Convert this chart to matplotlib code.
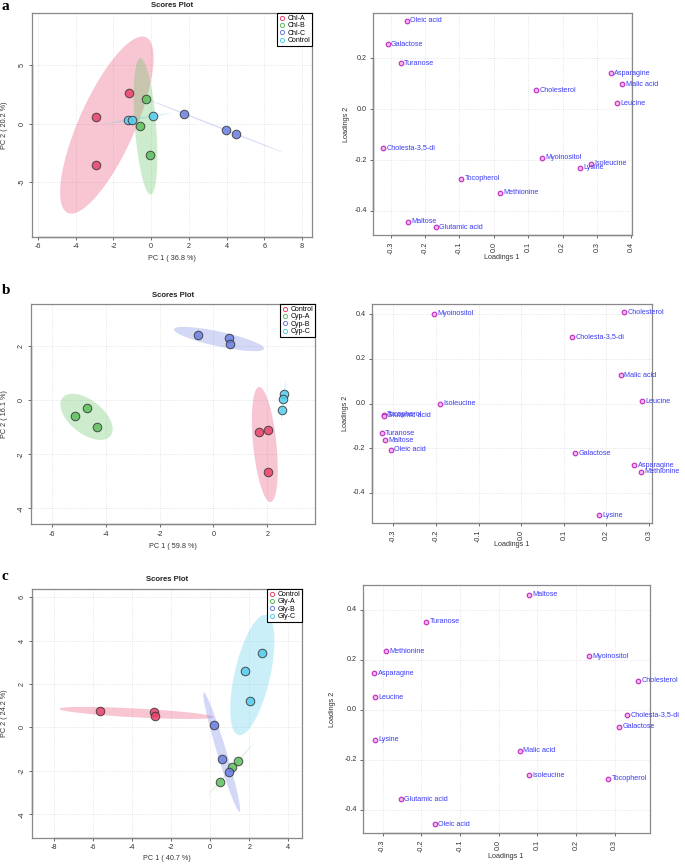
import numpy as np
import matplotlib
matplotlib.use('Agg')
import matplotlib.pyplot as plt
from matplotlib.lines import Line2D

plt.rcParams['font.family'] = ['Liberation Sans', 'DejaVu Sans']

# ---- panel a : Chl ----
chl_names = ['Chl-A', 'Chl-B', 'Chl-C', 'Control']
chl_group = [0, 0, 0, 1, 1, 1, 2, 2, 2, 3, 3, 3]
chl_pc1 = [-1.18, -2.93, -2.94, -0.27, -0.57, -0.06, 1.74, 3.98, 4.51, -1.25, -1.03, 0.08]
chl_pc2 = [2.60, 0.57, -3.49, 2.14, -0.17, -2.63, 0.88, -0.57, -0.86, 0.34, 0.34, 0.66]

cmp_a = ['Oleic acid', 'Galactose', 'Turanose', 'Asparagine', 'Malic acid', 'Cholesterol',
         'Leucine', 'Cholesta-3,5-di', 'Myoinositol', 'Isoleucine', 'Lysine', 'Tocopherol',
         'Methionine', 'Maltose', 'Glutamic acid']
load1_a = [-0.253, -0.309, -0.271, 0.340, 0.373, 0.122, 0.359, -0.323, 0.140, 0.282, 0.251,
           -0.095, 0.017, -0.250, -0.169]
load2_a = [0.348, 0.256, 0.180, 0.141, 0.098, 0.074, 0.024, -0.151, -0.190, -0.214, -0.230,
           -0.273, -0.329, -0.442, -0.464]

# ---- panel b : Cyp ----
cyp_names = ['Control', 'Cyp-A', 'Cyp-B', 'Cyp-C']
cyp_group = [0, 0, 0, 1, 1, 1, 2, 2, 2, 3, 3, 3]
cyp_pc1 = [1.68, 2.03, 2.01, -4.68, -5.12, -4.33, -0.58, 0.57, 0.63, 2.63, 2.59, 2.56]
cyp_pc2 = [-1.16, -1.11, -2.64, -0.285, -0.57, -0.98, 2.43, 2.31, 2.07, 0.233, 0.048, -0.35]

cmp_b = ['Myoinositol', 'Cholesterol', 'Cholesta-3,5-di', 'Malic acid', 'Leucine', 'Isoleucine',
         'Tocopherol', 'Glutamic acid', 'Turanose', 'Maltose', 'Oleic acid', 'Galactose',
         'Asparagine', 'Methionine', 'Lysine']
load1_b = [-0.204, 0.242, 0.119, 0.234, 0.284, -0.190, -0.323, -0.322, -0.327, -0.320, -0.306,
           0.126, 0.266, 0.281, 0.183]
load2_b = [0.403, 0.409, 0.300, 0.127, 0.011, 0.000, -0.051, -0.054, -0.133, -0.164, -0.207,
           -0.222, -0.276, -0.305, -0.500]

# ---- panel c : Gly ----
gly_names = ['Control', 'Gly-A', 'Gly-B', 'Gly-C']
gly_group = [0, 0, 0, 1, 1, 1, 2, 2, 2, 3, 3, 3]
gly_pc1 = [-5.63, -2.87, -2.82, 1.44, 1.13, 0.49, 0.21, 0.59, 0.98, 2.67, 1.77, 2.04]
gly_pc2 = [0.756, 0.71, 0.54, -1.55, -1.84, -2.52, 0.11, -1.47, -2.06, 3.44, 2.61, 1.20]

cmp_c = ['Maltose', 'Turanose', 'Methionine', 'Myoinositol', 'Asparagine', 'Cholesterol',
         'Leucine', 'Cholesta-3,5-di', 'Galactose', 'Lysine', 'Malic acid', 'Isoleucine',
         'Tocopherol', 'Glutamic acid', 'Oleic acid']
load1_c = [0.079, -0.188, -0.292, 0.234, -0.322, 0.360, -0.320, 0.331, 0.312, -0.320, 0.054,
           0.078, 0.283, -0.253, -0.165]
load2_c = [0.460, 0.352, 0.235, 0.215, 0.147, 0.116, 0.050, -0.019, -0.068, -0.119, -0.164,
           -0.262, -0.276, -0.357, -0.458]

W, H = 685, 867
COLS = ['#E8436A', '#5CC05C', '#6B7FE0', '#55CCEE']
CHI95 = 5.991464547  # qchisq(0.95, 2)

fig = plt.figure(figsize=(W / 100, H / 100), dpi=100)


def rect(l, t, r, b):
    return [l / W, 1 - b / H, (r - l) / W, (b - t) / H]


def ftext(x, y, s, **kw):
    fig.text(x / W, 1 - y / H, s, ha='center', va='center', **kw)


def ellipse(x, y, n=200):
    x = np.asarray(x)
    y = np.asarray(y)
    vals, vecs = np.linalg.eigh(np.cov(x, y))
    t = np.linspace(0, 2 * np.pi, n)
    circ = np.vstack([np.cos(t), np.sin(t)])
    pts = vecs @ (np.sqrt(np.maximum(vals, 0))[:, None] * circ) * np.sqrt(CHI95)
    return pts[0] + x.mean(), pts[1] + y.mean()


def style(ax, xlim, ylim, xticks, yticks, xfmt, yfmt, xrot, yrot):
    ax.set_xlim(xlim)
    ax.set_ylim(ylim)
    ax.set_xticks(xticks)
    ax.set_yticks(yticks)
    ax.set_xticklabels([xfmt.format(v) for v in xticks], rotation=xrot)
    ax.set_yticklabels([yfmt.format(v) for v in yticks], rotation=yrot, va='center')
    ax.tick_params(length=2.5, width=0.6, color='#555555', labelsize=5.2, labelcolor='#333333',
                   pad=2)
    ax.grid(True, color='#dddddd', linestyle=':', linewidth=0.6)
    ax.set_axisbelow(True)
    for sp in ax.spines.values():
        sp.set_color('#888888')
        sp.set_linewidth(0.9)
    # R style axis lines from first to last tick
    ax.plot([xlim[0], xlim[0]], [yticks[0], yticks[-1]], color='#222222', lw=0.9, clip_on=False)
    ax.plot([xticks[0], xticks[-1]], [ylim[0], ylim[0]], color='#444444', lw=0.9, clip_on=False)


def scores(box, pc1, pc2, group, names, xlim, ylim, xticks, yticks):
    ax = fig.add_axes(rect(*box))
    pc1 = np.asarray(pc1)
    pc2 = np.asarray(pc2)
    group = np.asarray(group)
    for g in range(len(names)):
        m = group == g
        ex, ey = ellipse(pc1[m], pc2[m])
        ax.fill(ex, ey, color=COLS[g], alpha=0.3, lw=0)
    for g in range(len(names)):
        m = group == g
        ax.scatter(pc1[m], pc2[m], s=38, color=COLS[g], alpha=0.85, edgecolors='#333333',
                   linewidths=0.7, zorder=3)
    style(ax, xlim, ylim, xticks, yticks, '{:g}', '{:g}', 0, 90)
    handles = [Line2D([], [], marker='o', ls='none', mfc='none', mec=COLS[g], ms=3, mew=0.7)
               for g in range(len(names))]
    leg = ax.legend(handles, names, loc='upper right', borderaxespad=0, fontsize=5,
                    handlelength=0.8, handletextpad=0.4, labelspacing=0.05, borderpad=0.3,
                    fancybox=False, framealpha=1)
    leg.get_frame().set_edgecolor('black')
    leg.get_frame().set_linewidth(0.8)
    return ax


def loadings(box, l1, l2, names, xlim, ylim, xticks, yticks):
    ax = fig.add_axes(rect(*box))
    ax.scatter(l1, l2, s=11, color='#F3B8F0', edgecolors='#C02CC0', linewidths=0.8, zorder=3)
    for x, y, s in zip(l1, l2, names):
        ax.annotate(s, (x, y), xytext=(2.5, 0), textcoords='offset points', va='center',
                    ha='left', fontsize=5.2, color='#3B3BF5', annotation_clip=False)
    style(ax, xlim, ylim, xticks, yticks, '{:.1f}', '{:.1f}', 90, 0)
    return ax


# panel a
scores((32, 13, 312, 237), chl_pc1, chl_pc2, chl_group, chl_names,
       (-6.32, 8.53), (-9.7, 9.5), np.arange(-6, 9, 2), [-5, 0, 5])
ftext(172, 5.5, 'Scores Plot', fontsize=5.6, fontweight='bold', color='#222222')
ftext(172, 258, 'PC 1 ( 36.8 %)', fontsize=5.2, color='#333333')
ftext(5, 125, 'PC 2 ( 20.2 %)', fontsize=5.2, color='#333333', rotation=90)
loadings((373.3, 12.7, 632, 235.3), load1_a, load2_a, cmp_a,
         (-0.3506, 0.402), (-0.4955, 0.379), np.round(np.arange(-0.3, 0.41, 0.1), 1),
         [-0.4, -0.2, 0.0, 0.2])
ftext(502, 257.5, 'Loadings 1', fontsize=5.2, color='#333333')
ftext(347, 124, 'Loadings 2', fontsize=5.2, color='#333333', rotation=90)

# panel b
scores((31, 304, 315, 524.3), cyp_pc1, cyp_pc2, cyp_group, cyp_names,
       (-6.77, 3.77), (-4.59, 3.567), np.arange(-6, 3, 2), [-4, -2, 0, 2])
ftext(173, 295.7, 'Scores Plot', fontsize=5.6, fontweight='bold', color='#222222')
ftext(173, 546, 'PC 1 ( 59.8 %)', fontsize=5.2, color='#333333')
ftext(4.5, 414, 'PC 2 ( 16.1 %)', fontsize=5.2, color='#333333', rotation=90)
loadings((371.7, 304, 652.3, 523.3), load1_b, load2_b, cmp_b,
         (-0.3507, 0.3078), (-0.536, 0.446), np.round(np.arange(-0.3, 0.31, 0.1), 1),
         [-0.4, -0.2, 0.0, 0.2, 0.4])
ftext(512, 545, 'Loadings 1', fontsize=5.2, color='#333333')
ftext(345, 413, 'Loadings 2', fontsize=5.2, color='#333333', rotation=90)

# panel c
scores((31.7, 589, 302.3, 837.7), gly_pc1, gly_pc2, gly_group, gly_names,
       (-9.125, 4.716), (-5.08, 6.38), np.arange(-8, 5, 2), [-4, -2, 0, 2, 4, 6])
ftext(167, 579.3, 'Scores Plot', fontsize=5.6, fontweight='bold', color='#222222')
ftext(167, 859, 'PC 1 ( 40.7 %)', fontsize=5.2, color='#333333')
ftext(5, 713, 'PC 2 ( 24.2 %)', fontsize=5.2, color='#333333', rotation=90)
loadings((363.3, 585, 649.7, 833.3), load1_c, load2_c, cmp_c,
         (-0.350, 0.3905), (-0.494, 0.499), np.round(np.arange(-0.3, 0.31, 0.1), 1),
         [-0.4, -0.2, 0.0, 0.2, 0.4])
ftext(506, 857, 'Loadings 1', fontsize=5.2, color='#333333')
ftext(333, 709, 'Loadings 2', fontsize=5.2, color='#333333', rotation=90)

# panel letters
for lab, y in [('a', 7), ('b', 291), ('c', 577)]:
    fig.text(2 / W, 1 - y / H, lab, ha='left', va='center', fontsize=11, fontweight='bold',
             family='Liberation Serif')

fig.savefig('out.png', dpi=100)
